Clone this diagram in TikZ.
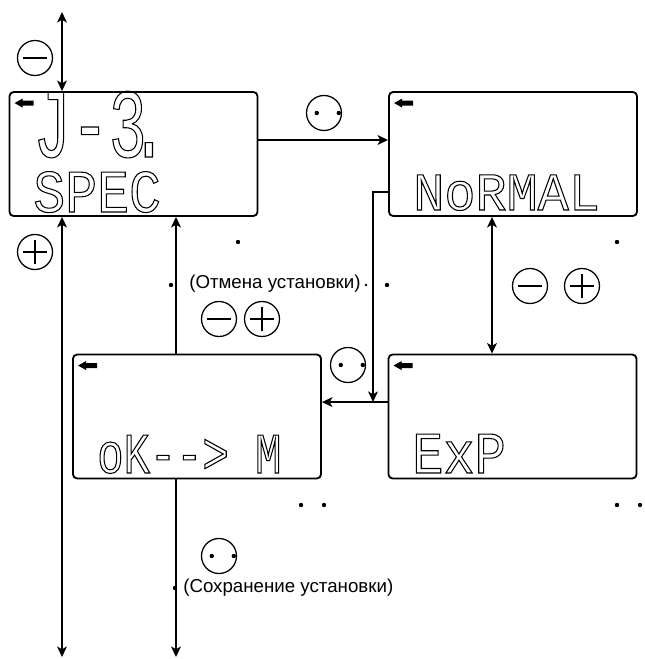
\documentclass[tikz,border=0pt]{standalone}
\usepackage{fontspec}
\usepackage{xcolor}
\usepackage{tikz}
\usetikzlibrary{arrows.meta}
\setmainfont{Liberation Sans}
\newfontfamily\lcdfont[FakeStretch=0.88]{Liberation Mono}
\newfontfamily\lcdwide[FakeStretch=0.97]{Liberation Mono}
\newfontfamily\lcdnarrow[FakeStretch=0.76]{Liberation Mono}
\newfontfamily\lcdtall[FakeStretch=0.64]{Liberation Mono}
\definecolor{PanelInk}{HTML}{000000}
\newcommand\hollowtext[1]{\special{pdf:literal direct 1 Tr 0.75 w}#1\special{pdf:literal direct 0 Tr}}
\tikzset{
  lcd/.style={draw=PanelInk,line width=1.3pt,rounded corners=3pt,minimum width=6.2cm,minimum height=3.1cm,inner sep=0pt},
  lcdtext/.style={anchor=base west,inner sep=0pt,text depth=0pt,font=\lcdfont\fontsize{#1}{#1}\selectfont},
  lcdwidetext/.style={anchor=base west,inner sep=0pt,text depth=0pt,font=\lcdwide\fontsize{#1}{#1}\selectfont},
  lcdnarrowtext/.style={anchor=base west,inner sep=0pt,text depth=0pt,font=\lcdnarrow\fontsize{#1}{#1}\selectfont},
  lcdtalltext/.style={anchor=base west,inner sep=0pt,text depth=0pt,font=\lcdtall\fontsize{#1}{#1}\selectfont},
  conn/.style={draw=PanelInk,line width=1pt},
  note/.style={anchor=base west,inner sep=0pt,font=\fontsize{13.3}{15}\selectfont},
  btn/.style={draw=PanelInk,circle,line width=0.9pt,minimum size=0.875cm,inner sep=0pt},
  minusbtn/.style={btn,path picture={
    \draw[line width=0.9pt] ([xshift=-0.31cm]path picture bounding box.center) -- ([xshift=0.31cm]path picture bounding box.center);}},
  plusbtn/.style={btn,path picture={
    \draw[line width=0.9pt] ([xshift=-0.31cm]path picture bounding box.center) -- ([xshift=0.31cm]path picture bounding box.center);
    \draw[line width=0.9pt] ([yshift=-0.31cm]path picture bounding box.center) -- ([yshift=0.31cm]path picture bounding box.center);}},
  okbtn/.style={btn,path picture={
    \fill ([xshift=-0.18cm]path picture bounding box.center) circle (0.055cm);
    \fill ([xshift=0.37cm]path picture bounding box.center) circle (0.055cm);}}
}
\newcommand\backarrow[1]{\fill[PanelInk,shift={(#1.north west)}] (6,12) -- (14,7.5) -- (14,9.5) -- (25,9.5) -- (25,14.5) -- (14,14.5) -- (14,16.5) -- cycle;}

\begin{document}
\begin{tikzpicture}[x=0.025cm,y=-0.025cm,>={Stealth[length=7.5pt,width=7pt,inset=2pt]}]
\path[use as bounding box] (0,0) rectangle (645,659);
\node[lcd] (spec) at (133.5,154) {};
\node[lcd] (normal) at (513,154) {};
\node[lcd] (okm) at (197,416.5) {};
\node[lcd] (exp) at (512.5,416.5) {};
\backarrow{spec}
\backarrow{normal}
\backarrow{okm}
\backarrow{exp}
\node[lcdtalltext=70] (jnum) at (33,157) {\hollowtext{J-3\kern-0.17em.}};
\node[lcdtext=43] (spectxt) at (33,212) {\hollowtext{SPEC}};
\node[lcdwidetext=38] (normaltxt) at (413,210) {\hollowtext{NoRMAL}};
\node[lcdnarrowtext=41] (okmtxt) at (97,473) {\hollowtext{oK--> M}};
\node[lcdtext=42] (exptxt) at (412,473) {\hollowtext{ExP}};
\node[minusbtn] (mintop) at (35,58) {};
\node[plusbtn] (plusleft) at (35,252) {};
\node[minusbtn] (minmid) at (219,319) {};
\node[plusbtn] (plusmid) at (262,319) {};
\node[okbtn] (oktop) at (324,113) {};
\node[minusbtn] (minright) at (530,286) {};
\node[plusbtn] (plusright) at (582,286) {};
\node[okbtn] (okmid) at (348,365) {};
\node[okbtn] (okbot) at (219,556) {};
\node[note] (cancel) at (189,288) {(Отмена установки)};
\node[note] (save) at (183,592) {(Сохранение установки)};
\coordinate (topend) at (62,12);
\coordinate (bottomend) at (62,657);
\coordinate (saveend) at (176,657);
\coordinate (join) at (373,402);
\draw[conn,<->] (topend) -- (topend |- spec.north);
\draw[conn,<->] (bottomend |- spec.south) -- (bottomend);
\draw[conn,->] (saveend |- okm.north) -- (saveend |- spec.south);
\draw[conn,->] (saveend |- okm.south) -- (saveend);
\draw[conn,->] ([yshift=0.35cm]spec.east) -- ([yshift=0.35cm]normal.west);
\draw[conn,->] ([yshift=-0.95cm]normal.west) -| (join);
\draw[conn,->] ([yshift=0.36cm]exp.west) -- ([yshift=0.36cm]okm.east);
\draw[conn,<->] ([xshift=-0.525cm]normal.south) -- ([xshift=-0.525cm]normal.south |- exp.north);
\fill[PanelInk] (238,242) circle (0.055cm);
\fill[PanelInk] (171,285) circle (0.055cm);
\fill[PanelInk] (366,285) circle (0.035cm);
\fill[PanelInk] (387,285) circle (0.055cm);
\fill[PanelInk] (617,242) circle (0.055cm);
\fill[PanelInk] (301,505) circle (0.055cm);
\fill[PanelInk] (324,505) circle (0.055cm);
\fill[PanelInk] (617,505) circle (0.055cm);
\fill[PanelInk] (640,505) circle (0.055cm);
\fill[PanelInk] (175,588) circle (0.055cm);
\end{tikzpicture}
\end{document}
